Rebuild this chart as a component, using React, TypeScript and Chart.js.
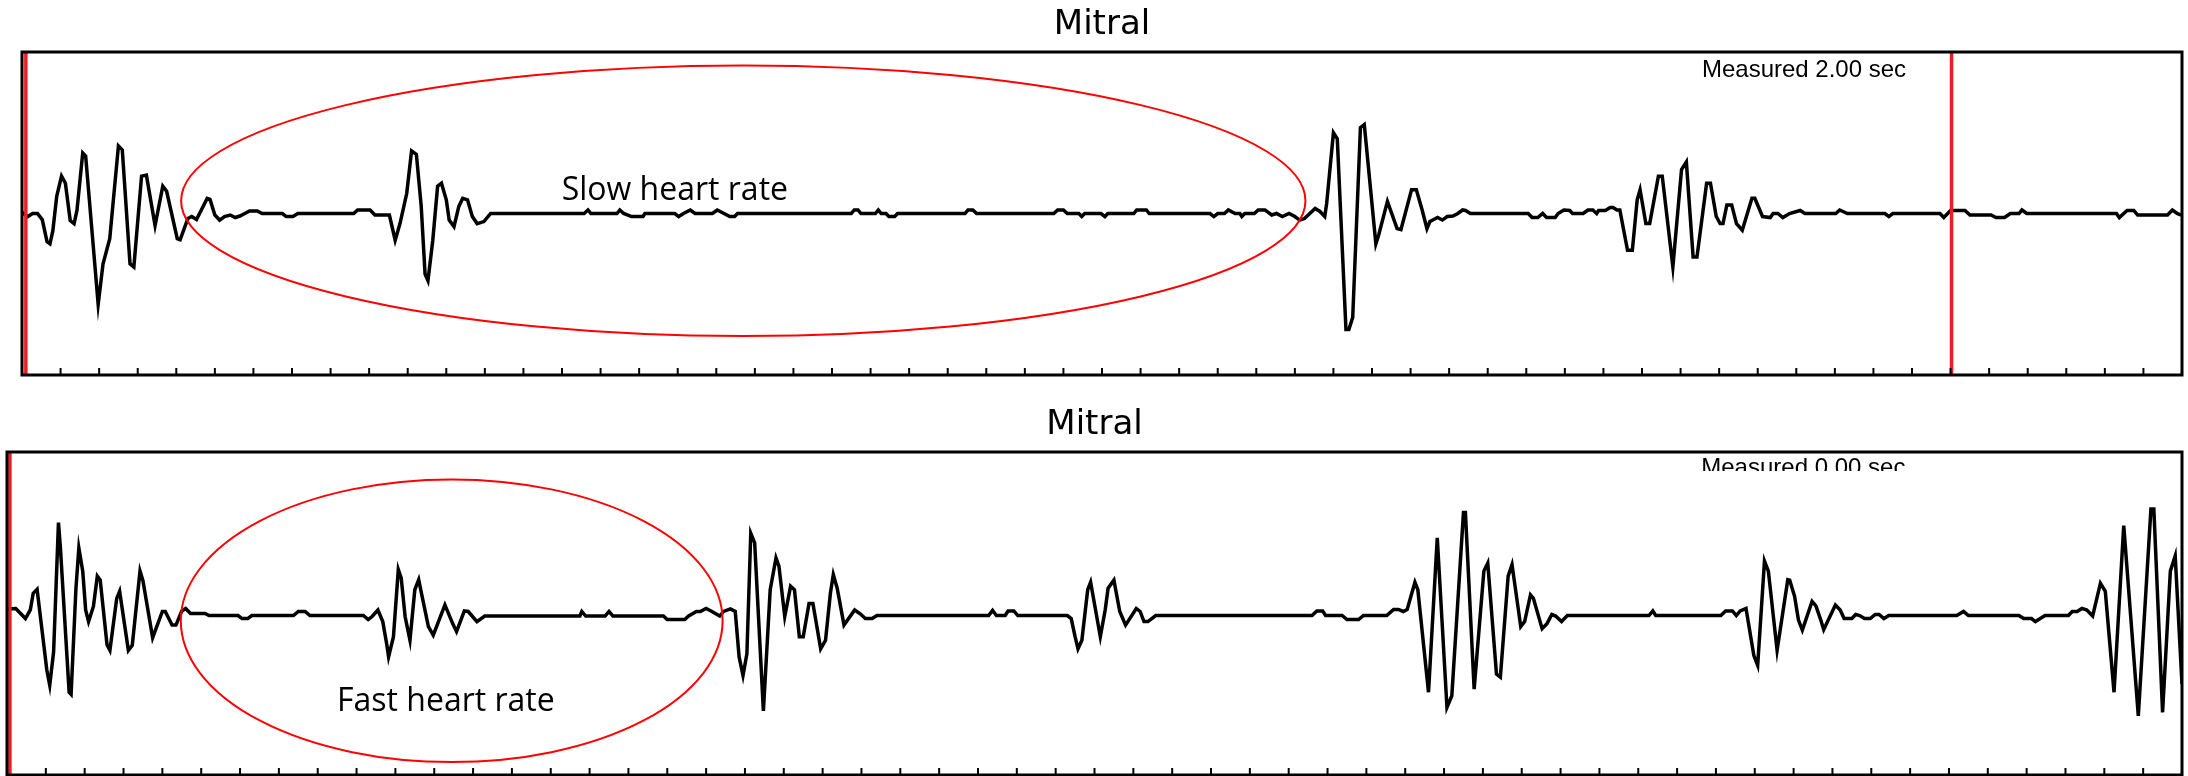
import React, { useEffect, useRef } from "react";
import { Chart, registerables } from "chart.js";

Chart.register(...registerables);

// ---------- data (time in ms, amplitude in arbitrary units) ----------
const topTimesMs = [
  0, 6, 11, 16, 21, 26, 29, 32, 36, 41, 45, 50, 54, 57, 63, 66, 79, 84, 91, 100,
  104, 112, 116, 124, 129, 138, 146, 150, 161, 164, 172, 176, 181, 192, 195, 200, 205, 210, 216, 221,
  226, 231, 236, 244, 249, 270, 274, 281, 286, 344, 348, 361, 366, 381, 387, 392, 399, 404, 409, 414,
  418, 421, 426, 431, 435, 440, 443, 448, 453, 457, 462, 467, 472, 479, 486, 583, 587, 590, 617, 620,
  624, 632, 644, 646, 677, 681, 686, 693, 698, 716, 721, 728, 734, 739, 742, 860, 863, 867, 870, 885,
  888, 891, 896, 899, 905, 908, 978, 981, 986, 990, 1070, 1074, 1080, 1084, 1096, 1099, 1102, 1119, 1123, 1126,
  1153, 1156, 1166, 1169, 1232, 1236, 1240, 1247, 1251, 1258, 1263, 1265, 1268, 1278, 1282, 1289, 1296, 1301, 1307, 1314,
  1320, 1325, 1330, 1341, 1346, 1351, 1353, 1360, 1364, 1373, 1376, 1380, 1388, 1392, 1404, 1407, 1416, 1426, 1430, 1441,
  1446, 1452, 1457, 1460, 1463, 1468, 1473, 1478, 1484, 1489, 1494, 1497, 1502, 1562, 1566, 1572, 1577, 1581, 1590, 1593,
  1599, 1605, 1608, 1619, 1624, 1629, 1633, 1635, 1642, 1647, 1650, 1654, 1657, 1665, 1670, 1675, 1678, 1684, 1688, 1697,
  1701, 1712, 1721, 1726, 1733, 1737, 1747, 1751, 1757, 1761, 1764, 1768, 1773, 1778, 1784, 1794, 1797, 1805, 1813, 1816,
  1821, 1826, 1833, 1844, 1849, 1881, 1885, 1893, 1932, 1936, 1940, 1989, 1993, 2000, 2015, 2020, 2042, 2047, 2056, 2062,
  2071, 2074, 2079, 2172, 2175, 2183, 2190, 2194, 2225, 2230, 2235, 2239,
];
const topAmps = [
  1, -3, 0, 0, -6, -28, -30, -17, 17, 37, 30, -7, -10, 3, 60, 57, -90, -50, -25, 67,
  63, -50, -53, 37, 38, -12, 27, 22, -25, -26, -5, -3, -6, 15, 14, -1.5, -6.5, -3, -1.5, -4,
  -2.5, 0, 2.5, 2.5, 0, 0, -3, -3, 0, 0, 3.5, 3.5, -1.5, -1.5, -26.5, -10, 20, 62, 58.5, 7,
  -60, -66.5, -26.5, 27, 30, 13.5, -6.5, -13, 7, 15, 13.5, -3, -10, -8, 0, 0, 3.5, 0, 0, 3.5,
  0, -3, -3, 0, 0, -3, 0, 3.5, 0, 0, 3.5, 0, -3, -3, 0, 0, 3.5, 3.5, 0, 0,
  3.5, 0, 0, -3, -3, 0, 0, 3.5, 3.5, 0, 0, 3.5, 3.5, 0, 0, -3, 0, 0, -3, 0,
  0, 3.5, 3.5, 0, 0, -3, 0, 0, 3.5, 0, 0, -3, 0, 0, 3.5, 3.5, -1.5, 0, -3, 0,
  -3, -6.5, -5, 5, 2, -3, 10, 80, 74, -115, -115, -103, 85, 88, -30, -21, 12, -15, -16, 23.5,
  23.5, 3.5, -15, -8, -6.5, -4, -6.5, -3, -2.5, 0, 3.5, 3, 0, 0, -4, -4, 0, -4, -4, 0,
  3.5, 3, 0, 0, 3.5, 3.5, 0, 3, 3, 6, 6, 3.5, 3.5, -36.5, -36.5, 13.5, 23.5, -10, -10, 37,
  37, -53, 43.5, 51, -43, -43, 30, 30, -3, -10, -10, 8.5, 8.5, -10, -16.5, 15, 15, -3, -4, 0,
  0, -4, 0, 3, 0, 0, 3.5, 0, 0, -3, 0, 0, -4, 3, 3, -1.5, -1.5, -4, -4, 0,
  0, 3.5, 0, 0, -4, 3, 3, -1.5, -1.5, 3.5, 0, -1.5,
];

const bottomTimesMs = [
  0, 9, 19, 24, 27, 31, 41, 44, 48, 53, 55, 64, 66, 71, 74, 78, 81, 84, 89, 93,
  96, 103, 106, 113, 116, 125, 129, 137, 140, 150, 160, 163, 170, 174, 180, 184, 189, 204, 208, 238,
  242, 248, 252, 295, 300, 307, 312, 367, 372, 376, 382, 387, 391, 393, 398, 403, 406, 410, 415, 420,
  424, 429, 434, 439, 451, 459, 463, 471, 475, 484, 492, 590, 592, 596, 616, 620, 624, 676, 680, 698,
  702, 710, 714, 720, 726, 734, 738, 745, 750, 754, 758, 762, 766, 770, 779, 786, 792, 795, 801, 807,
  811, 816, 820, 826, 830, 838, 843, 848, 851, 855, 862, 873, 879, 884, 891, 896, 1011, 1015, 1019, 1028,
  1031, 1037, 1041, 1092, 1096, 1100, 1103, 1107, 1113, 1116, 1126, 1131, 1134, 1140, 1146, 1152, 1163, 1167, 1171, 1175,
  1179, 1183, 1344, 1349, 1355, 1358, 1375, 1380, 1392, 1397, 1421, 1428, 1433, 1438, 1442, 1450, 1453, 1464, 1473, 1483,
  1488, 1500, 1502, 1511, 1521, 1525, 1534, 1538, 1546, 1550, 1559, 1563, 1569, 1572, 1581, 1586, 1591, 1595, 1601, 1607,
  1691, 1695, 1698, 1765, 1770, 1777, 1781, 1785, 1791, 1799, 1803, 1810, 1814, 1823, 1834, 1836, 1841, 1845, 1849, 1859,
  1863, 1868, 1871, 1883, 1888, 1892, 1900, 1904, 1908, 1913, 1919, 1924, 1928, 1933, 1938, 2008, 2015, 2020, 2072, 2077,
  2085, 2089, 2094, 2099, 2123, 2127, 2132, 2137, 2142, 2148, 2156, 2161, 2170, 2180, 2195, 2208, 2211, 2220, 2228, 2233,
  2240,
];
const bottomAmps = [
  4.5, 5, -5, 3.5, 20, 24, -56, -71, -38, 90, 65, -78, -80, 25, 65, 42, 3.5, -8, 7, 37,
  33, -31, -36.5, 15, 22, -36.5, -31.5, 42, 32.5, -24, 2, 2, -11.5, -11.5, 2.5, 5, 0, 0, -2, -2,
  -5, -5, -2, -2, 2, 2, -2, -2, -6, -3, 3.5, -8, -30, -43, -23, 43.5, 35, -3, -26.5, 23.5,
  33.5, 10, -13, -21.5, 8.5, -10, -18, 2.5, 2, -8, -2.5, -2.5, 2, -2.5, -2.5, 2, -2.5, -2.5, -6, -6,
  -2.5, 2, 2, 5, 2, -2.5, 2, 4.5, 2, -43, -61.5, -40, 79.5, 70, -96.5, 23.5, 55, 47, -3, 27,
  23.5, -23, -23, 10, 10, -35, -26.5, 20, 38.5, 25, -11.5, 3.5, -0.5, -5, -5, -2, -2, 3, -2, -2,
  2.5, 2.5, -2, -2, -5, -23, -35, -26.5, 23.5, 31, -23, 3.5, 25, 33, 2, -11.5, 5, 2, -8, -8,
  -5, -2, -2, 2.5, 2.5, -2, -2, -6, -6, -2, -2, 4, 4, 2, 4, 31, 23.5, -78, 75, -93,
  -81.5, 100, 100, -75, 42, 50, -60, -63, 37, 48.5, -13, -8, 18.5, 15, -15, -10, -1, -2.5, -8, -2,
  -2, 2.5, -2, -2, 2.5, 2.5, -2, 2.5, 5, -41.5, -51.5, 52, 42, -36.5, 33.5, 33, 17, -6.5, -16.5, 12,
  7.5, -6.5, -16, 8.5, 3.5, -5, -5, -1, -2, -5, -5, -1, -1, -5, -2, -2, 2, -2, -2, -5,
  -5, -8, -5, -2, -2, 2, 2, 5, 3.5, -2.5, 30, 22, -78, 87, -101.5, 103.5, 103.5, -98, 42, 57,
  -70,
];

const panelTitles = ["Mitral", "Mitral"];
const measuredLabels = ["Measured 2.00 sec", "Measured 0.00 sec"];
const rateLabels = ["Slow heart rate", "Fast heart rate"];
const topCursorsMs = [4, 2001];
const bottomCursorsMs = [3];

const X_MIN = 0;
const X_MAX = 2240;
const TICK_STEP = 40;
const Y_MIN = -160;
const Y_MAX = 160;

type PanelCfg = {
  top: number;
  height: number;
  padLeft: number;
  padRight: number;
  padBottom: number;
  times: number[];
  amps: number[];
  title: string;
  measured: string;
  measuredAt: number;
  measuredBaseline: number;
  measuredClip: number | null;
  cursors: number[];
  ellipse: { t: number; a: number; rt: number; ra: number };
  rateLabel: string;
  rateAt: { t: number; a: number };
  rateFont: string;
};

const panels: PanelCfg[] = [
  {
    top: 0,
    height: 400,
    padLeft: 22,
    padRight: 6,
    padBottom: 25,
    times: topTimesMs,
    amps: topAmps,
    title: panelTitles[0],
    measured: measuredLabels[0],
    measuredAt: 1848,
    measuredBaseline: 25,
    measuredClip: null,
    cursors: topCursorsMs,
    ellipse: { t: 748, a: 12.6, rt: 583, ra: 134 },
    rateLabel: rateLabels[0],
    rateAt: { t: 677, a: 13.5 },
    rateFont: '32px "Open Sans", Lato, sans-serif',
  },
  {
    top: 400,
    height: 376,
    padLeft: 7,
    padRight: 6,
    padBottom: 1,
    times: bottomTimesMs,
    amps: bottomAmps,
    title: panelTitles[1],
    measured: measuredLabels[1],
    measuredAt: 1850,
    measuredBaseline: 23,
    measuredClip: 19,
    cursors: bottomCursorsMs,
    ellipse: { t: 458, a: -7.2, rt: 279, ra: 140 },
    rateLabel: rateLabels[1],
    rateAt: { t: 452, a: -97 },
    rateFont: '32px "Open Sans", Lato, sans-serif',
  },
];

function makeOverlay(cfg: PanelCfg) {
  return {
    id: "overlay",
    afterDatasetsDraw(chart: any) {
      const { ctx, chartArea: a } = chart;
      const x = chart.scales.x;
      const y = chart.scales.y;
      ctx.save();

      // cursor lines
      ctx.strokeStyle = "#ee1c24";
      ctx.lineWidth = 3.5;
      for (const c of cfg.cursors) {
        const px = x.getPixelForValue(c);
        ctx.beginPath();
        ctx.moveTo(px, a.top);
        ctx.lineTo(px, a.bottom);
        ctx.stroke();
      }

      // frame
      ctx.strokeStyle = "#000";
      ctx.lineWidth = 3;
      ctx.strokeRect(a.left, a.top, a.right - a.left, a.bottom - a.top);

      // inward tick marks from the x scale
      ctx.lineWidth = 2;
      for (const t of x.ticks) {
        const px = x.getPixelForValue(t.value);
        ctx.beginPath();
        ctx.moveTo(px, a.bottom);
        ctx.lineTo(px, a.bottom - 7);
        ctx.stroke();
      }

      // ellipse highlight
      const e = cfg.ellipse;
      const cx = x.getPixelForValue(e.t);
      const cy = y.getPixelForValue(e.a);
      const rx = Math.abs(x.getPixelForValue(e.t + e.rt) - cx);
      const ry = Math.abs(y.getPixelForValue(e.a + e.ra) - cy);
      ctx.strokeStyle = "#ff0000";
      ctx.lineWidth = 2;
      ctx.beginPath();
      ctx.ellipse(cx, cy, rx, ry, 0, 0, Math.PI * 2);
      ctx.stroke();

      // rate label
      ctx.fillStyle = "#000";
      ctx.font = cfg.rateFont;
      ctx.textAlign = "center";
      ctx.textBaseline = "alphabetic";
      ctx.fillText(cfg.rateLabel, x.getPixelForValue(cfg.rateAt.t), y.getPixelForValue(cfg.rateAt.a));

      // measured label
      ctx.save();
      if (cfg.measuredClip !== null) {
        ctx.beginPath();
        ctx.rect(a.left, a.top, a.right - a.left, cfg.measuredClip);
        ctx.clip();
      }
      ctx.font = '24px "Liberation Sans", Arial, sans-serif';
      ctx.fillStyle = "#000";
      ctx.textAlign = "center";
      ctx.fillText(cfg.measured, x.getPixelForValue(cfg.measuredAt), a.top + cfg.measuredBaseline);
      ctx.restore();

      ctx.restore();
    },
  };
}

function Panel({ cfg }: { cfg: PanelCfg }) {
  const ref = useRef<HTMLCanvasElement | null>(null);
  useEffect(() => {
    if (!ref.current) return;
    const data = cfg.times.map((t, i) => ({ x: t, y: cfg.amps[i] }));
    const chart = new Chart(ref.current, {
      type: "line",
      data: {
        datasets: [
          {
            data,
            borderColor: "#000",
            borderWidth: 3.5,
            pointRadius: 0,
            tension: 0,
            fill: false,
            borderJoinStyle: "miter",
          },
        ],
      },
      options: {
        animation: false,
        responsive: false,
        devicePixelRatio: 1,
        events: [],
        layout: {
          padding: { left: cfg.padLeft, right: cfg.padRight, top: 0, bottom: cfg.padBottom },
        },
        plugins: {
          legend: { display: false },
          tooltip: { enabled: false },
          title: {
            display: true,
            text: cfg.title,
            color: "#000",
            font: { family: '"DejaVu Sans", sans-serif', size: 34, weight: "normal", lineHeight: 1.2 },
            padding: { top: 4.6, bottom: 6.6 },
          },
        },
        scales: {
          x: {
            type: "linear",
            min: X_MIN,
            max: X_MAX,
            display: true,
            grid: { display: false, drawTicks: false },
            border: { display: false },
            ticks: { display: false, stepSize: TICK_STEP, autoSkip: false, maxTicksLimit: 200 },
          },
          y: {
            type: "linear",
            min: Y_MIN,
            max: Y_MAX,
            display: false,
          },
        },
      },
      plugins: [makeOverlay(cfg)],
    } as any);
    return () => chart.destroy();
  }, [cfg]);
  return (
    <canvas
      ref={ref}
      width={2188}
      height={cfg.height}
      style={{ position: "absolute", left: 0, top: cfg.top, width: 2188, height: cfg.height }}
    />
  );
}

export default function App() {
  return (
    <div style={{ position: "absolute", left: 0, top: 0, width: 2188, height: 776, background: "#fff", overflow: "hidden" }}>
      {panels.map((p, i) => (
        <Panel key={i} cfg={p} />
      ))}
    </div>
  );
}
